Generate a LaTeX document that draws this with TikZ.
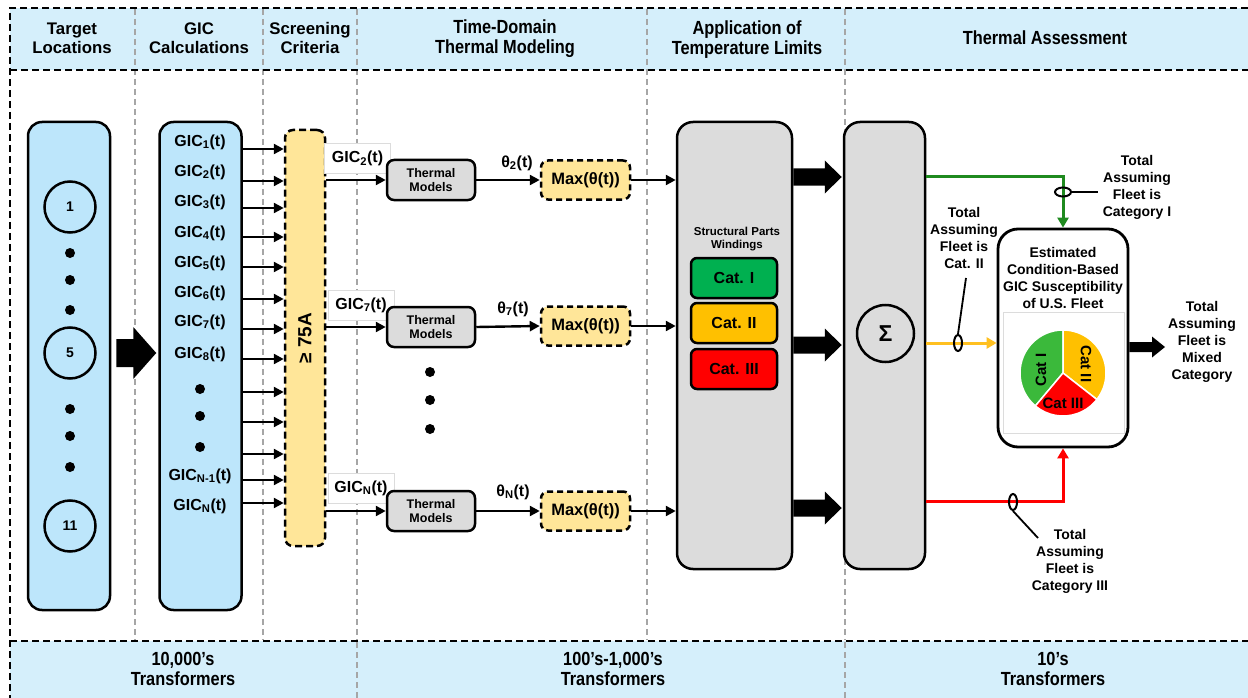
\documentclass[tikz,border=0pt]{standalone}
\usepackage{fontspec}
\setmainfont{Liberation Sans}
\newfontfamily\narrowfont[FakeStretch=0.86]{Liberation Sans}
\usetikzlibrary{arrows.meta,shapes.geometric,calc}
\definecolor{band}{HTML}{D5EFFB}
\definecolor{colblue}{HTML}{BDE6FB}
\definecolor{yel}{HTML}{FFE699}
\definecolor{gry}{HTML}{DCDCDC}
\definecolor{sepgray}{HTML}{A6A6A6}
\definecolor{catg}{HTML}{00B050}
\definecolor{cato}{HTML}{FFC000}
\definecolor{catr}{HTML}{FF0000}
\definecolor{pieg}{HTML}{3BB93B}
\definecolor{lineg}{HTML}{1F8A1F}
\definecolor{liney}{HTML}{FFC020}
\newcommand\blockarrow[5]{%
  \fill ($(#1)+(0,-#3)$) -- ($(#2)+(-#5,-#3)$) -- ($(#2)+(-#5,-#4)$) -- (#2)
     -- ($(#2)+(-#5,#4)$) -- ($(#2)+(-#5,#3)$) -- ($(#1)+(0,#3)$) -- cycle;}
\begin{document}
\begin{tikzpicture}[x=1pt,y=-1pt,
  font=\bfseries\fontsize{14}{17}\selectfont,
  hdr/.style={align=center, font=\bfseries\fontsize{16.8}{19}\selectfont},
  hdrn/.style={align=center, font=\narrowfont\bfseries\fontsize{19}{20}\selectfont},
  colbox/.style={draw, line width=2.5pt, rounded corners=14pt, fill=colblue, minimum width=82pt, minimum height=488pt, inner sep=0pt},
  circ/.style={circle, draw, line width=2.5pt, minimum size=51pt, inner sep=0pt, fill=colblue},
  dotn/.style={circle, fill=black, minimum size=10pt, inner sep=0pt},
  gtxt/.style={inner sep=0pt, font=\bfseries\fontsize{16}{18}\selectfont},
  thrbox/.style={draw, dash pattern=on 7pt off 4pt, line width=2.5pt, fill=yel, rounded corners=8pt, minimum width=40pt, minimum height=416pt, inner sep=0pt},
  arr/.style={line width=2.4pt, -{Triangle[length=10pt,width=10pt]}},
  lblbox/.style={draw=gry, fill=white, line width=0.8pt, minimum width=66pt, minimum height=30pt, inner sep=0pt, font=\bfseries\fontsize{16}{18}\selectfont},
  therm/.style={draw, line width=2.5pt, fill=gry, rounded corners=7pt, minimum width=88pt, minimum height=40pt, inner sep=0pt, align=center, font=\bfseries\fontsize{12.5}{14}\selectfont},
  maxb/.style={draw, dash pattern=on 6pt off 4pt, line width=2.5pt, fill=yel, rounded corners=7pt, minimum width=89pt, minimum height=39pt, inner sep=0pt, font=\bfseries\fontsize{16.5}{18}\selectfont},
  theta/.style={inner sep=0pt, font=\bfseries\fontsize{16}{18}\selectfont},
  bigbox/.style={draw, line width=2.5pt, fill=gry, rounded corners=16pt, inner sep=0pt},
  catbox/.style={draw, line width=2.5pt, rounded corners=6pt, minimum width=86pt, minimum height=40pt, inner sep=0pt, font=\bfseries\fontsize{16}{18}\selectfont},
  sep/.style={draw=sepgray, line width=2.2pt, dash pattern=on 6pt off 4pt},
  border/.style={line width=2.8pt, dash pattern=on 7pt off 4pt},
  note/.style={align=center, inner sep=0pt, font=\bfseries\fontsize{14}{17}\selectfont},
  ringmark/.style={draw, ellipse, line width=2pt, inner sep=0pt},
]
\useasboundingbox (0,0) rectangle (1248,698);
% bands
\fill[band] (10,8) rectangle (1248,70);
\fill[band] (10,641) rectangle (1248,698);
% separators
\foreach \x in {135,263,357,647,845} \draw[sep] (\x,9) -- (\x,640);
\foreach \x in {357,845} \draw[sep] (\x,642) -- (\x,698);
% borders
\draw[border] (1248,8) -- (10,8) -- (10,698);
\draw[border] (10,70) -- (1248,70);
\draw[border] (10,641) -- (1248,641);
% headers
\node[hdr] (h1) at (72,38) {Target\\Locations};
\node[hdr] (h2) at (199,38) {GIC\\Calculations};
\node[hdr] (h3) at (310,38) {Screening\\Criteria};
\node[hdrn] (h4) at (505,39) {Time-Domain\\Thermal Modeling};
\node[hdrn] (h5) at (747,40) {Application of\\Temperature Limits};
\node[hdrn] (h6) at (1045,38) {Thermal Assessment};
\node[hdrn] (b1) at (183,669) {10,000’s\\Transformers};
\node[hdrn] (b2) at (613,669) {100’s-1,000’s\\Transformers};
\node[hdrn] (b3) at (1053,669) {10’s\\Transformers};
% target locations column
\node[colbox] (loc) at (69,366) {};
\node[circ] (c1) at (70,207) {1};
\node[circ] (c5) at (70,353) {5};
\node[circ] (c11) at (70,526) {11};
\foreach \y [count=\i] in {253,280,310,409,436,467} \node[dotn] (ld\i) at (70,\y) {};
% GIC column
\node[colbox, minimum width=82pt] (gic) at (200.5,366) {};
\foreach \y/\s [count=\i] in {142/1,172/2,202/3,233/4,263/5,293/6,322/7,354/8}
  \node[gtxt] (g\i) at (200,\y) {GIC\textsubscript{\s}(t)};
\node[gtxt] (gn1) at (200,476) {GIC\textsubscript{N-1}(t)};
\node[gtxt] (gn) at (200,506) {GIC\textsubscript{N}(t)};
\foreach \y [count=\i] in {389,416,447} \node[dotn] (gd\i) at (200,\y) {};
% big arrow loc -> gic
\coordinate (bs) at (loc.east |- c5);
\coordinate (bs1) at ($(bs)+(5,0)$);
\coordinate (be) at ($(gic.west |- c5)+(-2,0)$);
\blockarrow{bs1}{be}{14}{26}{23}
% threshold
\node[thrbox] (thr) at (305,338) {};
\node[rotate=90, font=\bfseries\fontsize{19}{20}\selectfont] (thrt) at (thr.center) {≥ 75A};
\foreach \y in {149,181,208,237,267,299,329,359,392,422,454,480,503} {
  \coordinate (yy) at (0,\y);
  \draw[arr] (gic.east |- yy) -- (thr.west |- yy);
}
% thermal rows
\node[lblbox] (l1) at (357.5,158.5) {GIC\textsubscript{2}(t)};
\node[lblbox] (l2) at (361,305) {GIC\textsubscript{7}(t)};
\node[lblbox] (l3) at (361,488) {GIC\textsubscript{N}(t)};
\node[therm] (t1) at (431,180) {Thermal\\Models};
\node[therm] (t2) at (431,327) {Thermal\\Models};
\node[therm] (t3) at (431,511) {Thermal\\Models};
\node[maxb] (m1) at (585.5,180) {Max(θ(t))};
\node[maxb] (m2) at (585.5,326) {Max(θ(t))};
\node[maxb] (m3) at (585.5,511) {Max(θ(t))};
\node[theta] (th1) at (517,163) {θ\textsubscript{2}(t)};
\node[theta] (th2) at (513,309) {θ\textsubscript{7}(t)};
\node[theta] (th3) at (513,492) {θ\textsubscript{N}(t)};
\foreach \y [count=\i] in {372,400,429} \node[dotn] (md\i) at (430,\y) {};
% application box
\node[bigbox, minimum width=115pt, minimum height=447pt] (app) at (734.5,345.5) {};
\node[align=center, inner sep=0pt, font=\bfseries\fontsize{11.5}{13}\selectfont] (st) at (737,239) {Structural Parts\\Windings};
\node[catbox, fill=catg] (k1) at (734,278) {Cat. I};
\node[catbox, fill=cato] (k2) at (734,323) {Cat. II};
\node[catbox, fill=catr] (k3) at (734,369) {Cat. III};
\foreach \i in {1,2,3} {
  \draw[arr] (thr.east |- t\i) -- (t\i.west);
  \draw[arr] (t\i.east) -- (m\i.west);
  \draw[arr] (m\i.east) -- (app.west |- m\i);
}
% sigma box
\node[bigbox, minimum width=81pt, minimum height=447pt] (sig) at (884.5,345.5) {};
\node[circle, draw, line width=2.5pt, minimum size=57pt, inner sep=0pt, font=\bfseries\fontsize{23}{24}\selectfont] (sg) at (885.5,333.5) {Σ};
\foreach \y [count=\i] in {177,345,508} {
  \coordinate (ya\i) at (0,\y);
  \coordinate (as\i) at (app.east |- ya\i);
  \coordinate (ae\i) at ($(sig.west |- ya\i)+(-1,0)$);
  \blockarrow{as\i}{ae\i}{8.5}{16.5}{17}
}
% estimated box
\node[draw, line width=2.8pt, fill=white, rounded corners=20pt, minimum width=130pt, minimum height=218pt, inner sep=0pt] (est) at (1063,338) {};
\node[draw=gry, line width=0.8pt, minimum width=121pt, minimum height=121pt, inner sep=0pt] (inner) at (1063.5,372.5) {};
\node[note] (estt) at (1063,277.5) {Estimated\\Condition-Based\\GIC Susceptibility\\of U.S. Fleet};
\begin{scope}[shift={(1063,373)}, x=1pt, y=1pt]
  \fill[pieg, draw=white, line width=1.5pt] (0,0) -- (90:43) arc[start angle=90, end angle=230, radius=43] -- cycle;
  \fill[cato, draw=white, line width=1.5pt] (0,0) -- (-38:43) arc[start angle=-38, end angle=90, radius=43] -- cycle;
  \fill[catr, draw=white, line width=1.5pt] (0,0) -- (230:43) arc[start angle=230, end angle=322, radius=43] -- cycle;
\end{scope}
\node[rotate=90, inner sep=0pt, font=\bfseries\fontsize{15}{17}\selectfont] (pc1) at (1041,370) {Cat I};
\node[rotate=-90, inner sep=0pt, font=\bfseries\fontsize{15}{17}\selectfont] (pc2) at (1086,364) {Cat II};
\node[inner sep=0pt, font=\bfseries\fontsize{15}{17}\selectfont] (pc3) at (1063,403) {Cat III};
% coloured connectors
\coordinate (yg) at (0,177);
\coordinate (yy2) at (0,343);
\coordinate (yr) at (0,501);
\draw[lineg, line width=3pt, -{Triangle[length=10pt,width=11pt]}] (sig.east |- yg) -| (est.north);
\draw[liney, line width=3pt, -{Triangle[length=10pt,width=11pt]}] (sig.east |- yy2) -- (est.west |- yy2);
\draw[catr, line width=3pt, -{Triangle[length=10pt,width=11pt]}] (sig.east |- yr) -| (est.south);
% markers
\node[ringmark, minimum width=16pt, minimum height=9pt] (e1) at (1063,192) {};
\node[ringmark, minimum width=8pt, minimum height=16pt] (e2) at (958,343) {};
\node[ringmark, minimum width=8pt, minimum height=16pt] (e3) at (1013,502) {};
\coordinate (e1t) at (1098,192);
\coordinate (e2t) at (966,278);
\coordinate (e3t) at (1038,538);
\draw[line width=1.8pt] (e1.east) -- (e1t);
\draw[line width=1.8pt] (e2.north) -- (e2t);
\draw[line width=1.8pt] (e3.south) -- (e3t);
\node[note] (n1) at (1137,187.5) {Total\\Assuming\\Fleet is\\Category I};
\node[note] (n2) at (964,237.5) {Total\\Assuming\\Fleet is\\Cat. II};
\node[note] (n3) at (1070,561.5) {Total\\Assuming\\Fleet is\\Category III};
\node[note] (n4) at (1202,341.5) {Total\\Assuming\\Fleet is\\Mixed\\Category};
% mixed arrow
\coordinate (mx) at (0,347);
\coordinate (mxs) at (est.east |- mx);
\coordinate (mxe) at (1165,347);
\blockarrow{mxs}{mxe}{5}{10.5}{13}
\end{tikzpicture}
\end{document}
